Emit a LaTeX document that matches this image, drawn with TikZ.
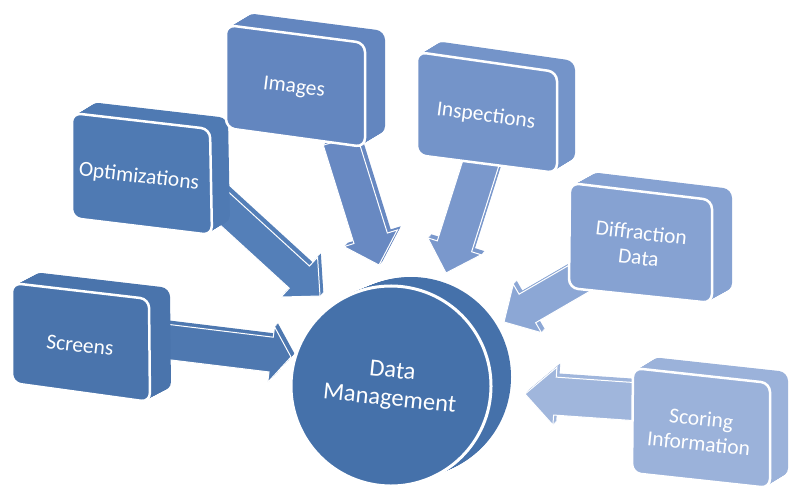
\documentclass[tikz,border=0pt]{standalone}
\usepackage{fontspec}
\setmainfont{Carlito}
\usetikzlibrary{calc}
\definecolor{cScr}{HTML}{4A74AC}
\definecolor{cOpt}{HTML}{4F7AB3}
\definecolor{cImg}{HTML}{6386BF}
\definecolor{cIns}{HTML}{7494C9}
\definecolor{cDif}{HTML}{86A2D2}
\definecolor{cSco}{HTML}{9BB2DA}
\definecolor{cDM}{HTML}{4571AA}
\definecolor{aScr}{HTML}{4E78B0}
\definecolor{aOpt}{HTML}{547FB8}
\definecolor{aImg}{HTML}{6889C2}
\definecolor{aIns}{HTML}{7A98CC}
\definecolor{aDif}{HTML}{8CA7D5}
\definecolor{aSco}{HTML}{A0B6DC}
\tikzset{
  lbl/.style={text=white, font=\fontsize{21.5}{25}\selectfont, align=center, inner sep=0pt},
  face/.style={draw=white, line width=2.5pt, rounded corners=9pt},
  arrowface/.style={draw=white, line width=1pt, line join=miter},
}
% block arrow outline: #1 tail, #2 tip, #3 half shaft, #4 half head, #5 head length
\newcommand\arrowoutline[5]{%
  ($(#1)!#3pt!90:(#2)$) -- ($(#2)!#5pt!(#1)!#3pt!90:(#2)$) --
  ($(#2)!#5pt!(#1)!#4pt!90:(#2)$) -- (#2) --
  ($(#2)!#5pt!(#1)!#4pt!-90:(#2)$) -- ($(#2)!#5pt!(#1)!#3pt!-90:(#2)$) --
  ($(#1)!#3pt!-90:(#2)$) -- cycle}
\newcommand\blockarrow[6]{%
  \foreach \k in {6,5,...,1}{%
    \fill[#6, transform canvas={shift={(0.55*\k,-0.6*\k)}}] \arrowoutline{#1}{#2}{#3}{#4}{#5};}
  \filldraw[#6, arrowface] \arrowoutline{#1}{#2}{#3}{#4}{#5};}
% 3D box: #1 prefix, #2 colour, #3 dx, #4 dy (image coords)
\newcommand\solidbox[4]{%
  \foreach \k in {24,23,...,1}{%
    \fill[#2, rounded corners=9pt, transform canvas={shift={({#3*\k/24},{#4*\k/24})}}]
      (#1tl) -- (#1tr) -- (#1br) -- (#1bl) -- cycle;}
  \filldraw[#2, face] (#1tl) -- (#1tr) -- (#1br) -- (#1bl) -- cycle;}
\begin{document}
\begin{tikzpicture}[x=1pt, y=-1pt]
\useasboundingbox (0,0) rectangle (800,500);
\fill[white] (0,0) rectangle (800,500);

% central disc
\foreach \k in {22,21,...,1}{%
  \fill[cDM] ({391+20*\k/22},{385-8*\k/22}) circle[radius=100pt];}
\node[circle, fill=cDM, draw=white, line width=3pt, minimum size=200pt, inner sep=0pt,
      text=white, font=\fontsize{24.5}{28}\selectfont, align=center, rotate=-6] (dm) at (391,386) {Data\\Management};

% arrow end points
\coordinate (t1) at (160,341);  \coordinate (p1) at (291,357);
\coordinate (t2) at (215,200);  \coordinate (p2) at (320,296);
\coordinate (t3) at (340,140);  \coordinate (p3) at (379,265);
\coordinate (t4) at (485,150);  \coordinate (p4) at (446,273);
\coordinate (t5) at (585,275);  \coordinate (p5) at (504,322);
\coordinate (t6) at (640,402);  \coordinate (p6) at (525,394);

\blockarrow{t1}{p1}{17.5}{28}{20}{aScr}
\blockarrow{t2}{p2}{15}{27}{28}{aOpt}
\blockarrow{t3}{p3}{17.5}{28}{28}{aImg}
\blockarrow{t4}{p4}{18}{28}{28}{aIns}
\blockarrow{t5}{p5}{16.5}{28}{27}{aDif}
\blockarrow{t6}{p6}{19}{29}{30}{aSco}

% box corners
\coordinate (scrtl) at (12,283);  \coordinate (scrtr) at (149,299);
\coordinate (scrbr) at (150,402); \coordinate (scrbl) at (12,383);
\coordinate (opttl) at (72,113);  \coordinate (opttr) at (210,129);
\coordinate (optbr) at (212,235); \coordinate (optbl) at (72,218);
\coordinate (imgtl) at (226,25);  \coordinate (imgtr) at (365,43);
\coordinate (imgbr) at (365,147); \coordinate (imgbl) at (226,128);
\coordinate (instl) at (417,52);  \coordinate (instr) at (557,72);
\coordinate (insbr) at (557,173); \coordinate (insbl) at (417,155);
\coordinate (diftl) at (570,183); \coordinate (diftr) at (712,200);
\coordinate (difbr) at (712,303); \coordinate (difbl) at (569,288);
\coordinate (scotl) at (633,368); \coordinate (scotr) at (770,383);
\coordinate (scobr) at (770,488); \coordinate (scobl) at (632,473);

\solidbox{scr}{cScr}{21}{-11}
\solidbox{opt}{cOpt}{18}{-11}
\solidbox{img}{cImg}{20}{-12}
\solidbox{ins}{cIns}{18}{-11}
\solidbox{dif}{cDif}{20}{-11}
\solidbox{sco}{cSco}{18}{-11}

\node[lbl, rotate=-6.5] (screens) at (80,345) {Screens};
\node[lbl, rotate=-6.5] (optim) at (139,177) {Optimizations};
\node[lbl, rotate=-7] (images) at (294,88) {Images};
\node[lbl, rotate=-7.5] (inspect) at (486,116) {Inspections};
\node[lbl, rotate=-6.5] (diffr) at (640,245) {Diffraction\\Data};
\node[lbl, rotate=-6] (scoring) at (700,431) {Scoring\\Information};
\end{tikzpicture}
\end{document}
